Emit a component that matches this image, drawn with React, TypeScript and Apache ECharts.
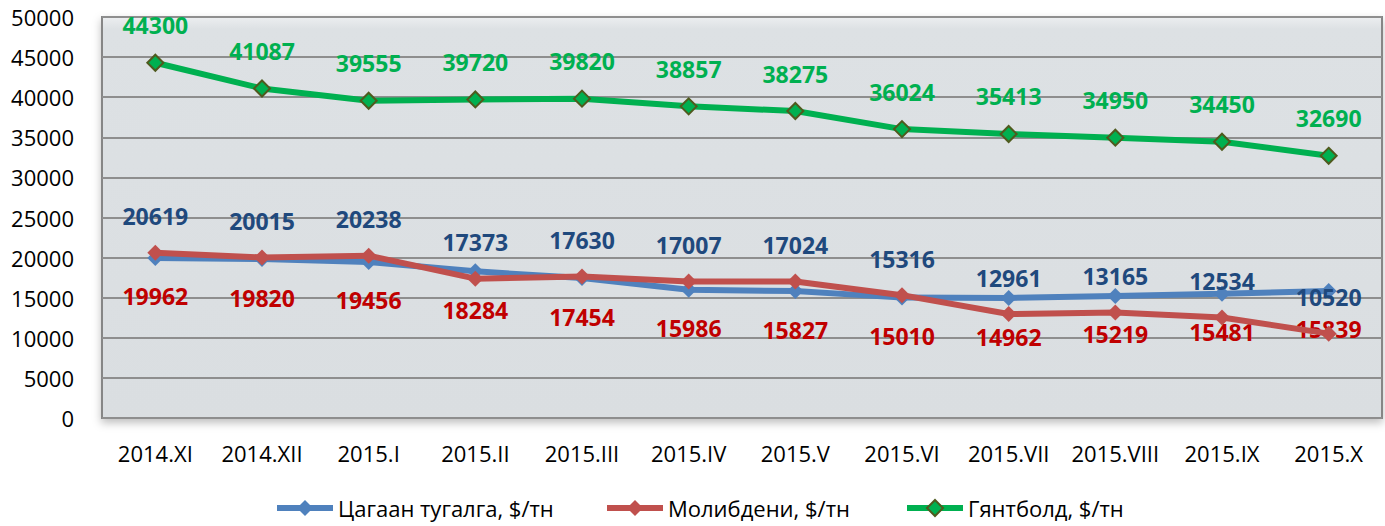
import React, { useEffect, useRef } from "react";
import * as echarts from "echarts";

const categories = ["2014.XI", "2014.XII", "2015.I", "2015.II", "2015.III", "2015.IV", "2015.V", "2015.VI", "2015.VII", "2015.VIII", "2015.IX", "2015.X"];
const tinValues = [19962, 19820, 19456, 18284, 17454, 15986, 15827, 15010, 14962, 15219, 15481, 15839];
const molyValues = [20619, 20015, 20238, 17373, 17630, 17007, 17024, 15316, 12961, 13165, 12534, 10520];
const fluorValues = [44300, 41087, 39555, 39720, 39820, 38857, 38275, 36024, 35413, 34950, 34450, 32690];
const seriesNames = ["Цагаан тугалга, $/тн", "Молибдени, $/тн", "Гянтболд, $/тн"];

const FONT = "'Open Sans', sans-serif";

export default function App() {
  const ref = useRef<HTMLDivElement>(null);
  useEffect(() => {
    if (!ref.current) return;
    const chart = echarts.init(ref.current, null, { renderer: "svg" });
    const labelBase = { show: true, fontFamily: FONT, fontWeight: "bold" as const, fontSize: 23 };
    const legendBase = {
      top: 497,
      padding: 0,
      itemWidth: 56,
      itemHeight: 20,
      lineStyle: { width: 6 },
      textStyle: { fontFamily: FONT, fontSize: 22, color: "#000" },
    };
    chart.setOption({
      animation: false,
      backgroundColor: "#ffffff",
      grid: {
        show: true,
        left: 102,
        right: 3,
        top: 17,
        bottom: 108,
        borderColor: "#868686",
        borderWidth: 2,
        backgroundColor: new echarts.graphic.LinearGradient(0, 0, 0, 1, [
          { offset: 0, color: "#eceef0" },
          { offset: 0.03, color: "#dde1e4" },
          { offset: 1, color: "#dadee1" },
        ]),
        shadowColor: "rgba(0,0,0,0.25)",
        shadowBlur: 8,
        shadowOffsetY: 4,
      },
      legend: [
        { ...legendBase, left: 274, data: [seriesNames[0]] },
        { ...legendBase, left: 604, data: [seriesNames[1]] },
        { ...legendBase, left: 904, data: [seriesNames[2]] },
      ],
      xAxis: {
        type: "category",
        data: categories,
        boundaryGap: true,
        axisLine: { show: false },
        axisTick: { show: false },
        axisLabel: { color: "#000", fontFamily: FONT, fontSize: 22, margin: 24, interval: 0 },
      },
      yAxis: {
        type: "value",
        min: 0,
        max: 50000,
        interval: 5000,
        axisLine: { show: false },
        axisTick: { show: false },
        axisLabel: {
          color: "#000",
          fontFamily: FONT,
          fontSize: 22,
          margin: 28,
          formatter: (v: number) => String(v),
        },
        splitLine: { lineStyle: { color: "#8e8e8e", width: 2 } },
      },
      series: [
        {
          name: seriesNames[0],
          type: "line",
          data: tinValues,
          symbol: "diamond",
          symbolSize: 16,
          lineStyle: { color: "#4F81BD", width: 6 },
          itemStyle: { color: "#4F81BD" },
          label: { ...labelBase, position: "bottom", distance: 19, color: "#C00000" },
          z: 2,
        },
        {
          name: seriesNames[1],
          type: "line",
          data: molyValues,
          symbol: "diamond",
          symbolSize: 16,
          lineStyle: { color: "#C0504D", width: 6 },
          itemStyle: { color: "#C0504D" },
          label: { ...labelBase, position: "top", distance: 17, color: "#1F497D" },
          z: 3,
        },
        {
          name: seriesNames[2],
          type: "line",
          data: fluorValues,
          symbol: "diamond",
          symbolSize: 16,
          lineStyle: { color: "#00B050", width: 6 },
          itemStyle: { color: "#00B050", borderColor: "#4F5A1E", borderWidth: 2 },
          label: { ...labelBase, position: "top", distance: 17, color: "#00B050" },
          z: 4,
        },
      ],
    });
    return () => chart.dispose();
  }, []);
  return (
    <div
      ref={ref}
      style={{ position: "fixed", left: 0, top: 0, width: 1385, height: 526, background: "#fff" }}
    />
  );
}
